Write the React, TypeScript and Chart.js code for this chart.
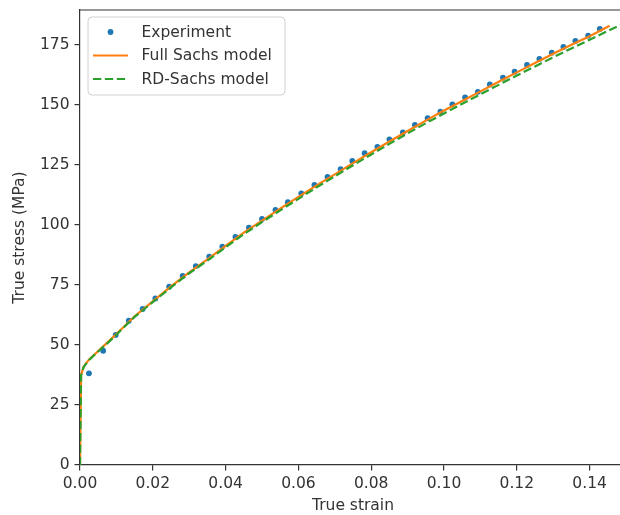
import React, { useEffect, useRef } from 'react';
import { Chart, registerables } from 'chart.js';

Chart.register(...registerables);

// ---- Data ----
const expStrain = [0.00246, 0.00636, 0.0098, 0.0134, 0.0172, 0.0207, 0.0245, 0.0282, 0.0318, 0.0355,
  0.0391, 0.0427, 0.0464, 0.05, 0.0537, 0.0571, 0.0608, 0.0644, 0.068, 0.0716,
  0.0748, 0.0782, 0.0817, 0.085, 0.0887, 0.092, 0.0955, 0.099, 0.1023, 0.1058,
  0.1093, 0.1126, 0.1162, 0.1194, 0.1228, 0.1262, 0.1296, 0.1328, 0.1361, 0.1396,
  0.1428];
const expStress = [38.2, 47.6, 54.2, 60.1, 65.0, 69.4, 74.3, 78.75, 82.9, 86.8,
  91.0, 95.1, 98.9, 102.5, 106.25, 109.5, 113.2, 116.7, 120.1, 123.3,
  126.7, 129.9, 132.6, 135.7, 138.6, 141.7, 144.5, 147.2, 150.3, 153.2,
  155.5, 158.6, 161.4, 163.9, 166.7, 169.2, 171.8, 174.2, 176.7, 178.9,
  181.7];

const fullStrain = [0, 0.0003, 0.001, 0.0025, 0.005, 0.0075, 0.01, 0.015, 0.02, 0.025,
  0.03, 0.035, 0.04, 0.045, 0.05, 0.055, 0.06, 0.065, 0.07, 0.075,
  0.08, 0.085, 0.09, 0.095, 0.1, 0.105, 0.11, 0.115, 0.12, 0.125,
  0.13, 0.135, 0.14, 0.1455];
const fullStress = [0, 37.5, 41.0, 44.0, 47.5, 51.0, 54.6, 62.0, 68.2, 74.4,
  80.3, 85.7, 91.3, 96.8, 101.8, 106.8, 111.7, 116.5, 121.1, 125.8,
  130.3, 134.8, 139.2, 143.5, 147.7, 151.7, 155.7, 159.7, 163.6, 167.5,
  171.4, 175.1, 178.7, 183.0];

const rdStrain = [0, 0.0003, 0.001, 0.0025, 0.005, 0.0075, 0.01, 0.015, 0.02, 0.025,
  0.03, 0.035, 0.04, 0.045, 0.05, 0.055, 0.06, 0.065, 0.07, 0.075,
  0.08, 0.085, 0.09, 0.095, 0.1, 0.105, 0.11, 0.115, 0.12, 0.125,
  0.13, 0.135, 0.14, 0.145, 0.15];
const rdStress = [0, 37.3, 40.8, 43.8, 47.3, 50.7, 54.3, 61.7, 67.9, 74.0,
  79.9, 85.2, 90.7, 96.2, 101.2, 106.1, 110.9, 115.7, 120.3, 124.9,
  129.4, 133.8, 138.2, 142.4, 146.5, 150.5, 154.5, 158.4, 162.3, 166.1,
  169.9, 173.6, 177.2, 180.9, 184.5];

const xTicks = [0, 0.02, 0.04, 0.06, 0.08, 0.1, 0.12, 0.14];
const yTicks = [0, 25, 50, 75, 100, 125, 150, 175];

const seriesLabels = ['Experiment', 'Full Sachs model', 'RD-Sachs model'];
const seriesColors = ['#1f77b4', '#ff7f0e', '#2ca02c'];

const FAMILY = "'DejaVu Sans', sans-serif";
const FSIZE = 15.5;
const TEXT = '#333333';
const AXIS = '#333333';

const frameTop = {
  id: 'frameTop',
  afterDraw(chart: any) {
    const { ctx, chartArea } = chart;
    ctx.save();
    ctx.strokeStyle = AXIS;
    ctx.lineWidth = 1.2;
    ctx.beginPath();
    ctx.moveTo(chartArea.left, chartArea.top);
    ctx.lineTo(chartArea.right, chartArea.top);
    ctx.stroke();
    ctx.restore();
  },
};

const innerLegend = {
  id: 'innerLegend',
  afterDraw(chart: any) {
    const { ctx, chartArea } = chart;
    const ds = chart.data.datasets;
    const x0 = chartArea.left + 8;
    const y0 = chartArea.top + 7;
    const w = 197;
    const h = 78;
    const r = 4;
    ctx.save();
    ctx.beginPath();
    ctx.moveTo(x0 + r, y0);
    ctx.lineTo(x0 + w - r, y0);
    ctx.arcTo(x0 + w, y0, x0 + w, y0 + r, r);
    ctx.lineTo(x0 + w, y0 + h - r);
    ctx.arcTo(x0 + w, y0 + h, x0 + w - r, y0 + h, r);
    ctx.lineTo(x0 + r, y0 + h);
    ctx.arcTo(x0, y0 + h, x0, y0 + h - r, r);
    ctx.lineTo(x0, y0 + r);
    ctx.arcTo(x0, y0, x0 + r, y0, r);
    ctx.closePath();
    ctx.fillStyle = 'rgba(255,255,255,0.8)';
    ctx.fill();
    ctx.strokeStyle = '#d0d0d0';
    ctx.lineWidth = 1;
    ctx.stroke();

    const rowY = [y0 + 15, y0 + 38.5, y0 + 62];
    const hx0 = x0 + 5;
    const hx1 = x0 + 40;
    ds.forEach((d: any, i: number) => {
      const y = rowY[i];
      if (i === 0) {
        ctx.fillStyle = d.backgroundColor;
        ctx.beginPath();
        ctx.arc((hx0 + hx1) / 2, y, d.pointRadius, 0, Math.PI * 2);
        ctx.fill();
      } else {
        ctx.strokeStyle = d.borderColor;
        ctx.lineWidth = d.borderWidth;
        ctx.setLineDash(d.borderDash || []);
        ctx.beginPath();
        ctx.moveTo(hx0, y);
        ctx.lineTo(hx1, y);
        ctx.stroke();
        ctx.setLineDash([]);
      }
      ctx.fillStyle = TEXT;
      ctx.font = `${FSIZE}px ${FAMILY}`;
      ctx.textBaseline = 'middle';
      ctx.textAlign = 'left';
      ctx.fillText(d.label, x0 + 53.5, y + 0.5);
    });
    ctx.restore();
  },
};

export default function App() {
  const ref = useRef<HTMLCanvasElement | null>(null);

  useEffect(() => {
    document.body.style.margin = '0';
    const canvas = ref.current;
    if (!canvas) return;
    const chart = new Chart(canvas, {
      type: 'scatter',
      data: {
        datasets: [
          {
            label: seriesLabels[0],
            data: expStrain.map((x, i) => ({ x, y: expStress[i] })),
            backgroundColor: seriesColors[0],
            borderColor: seriesColors[0],
            pointRadius: 2.9,
            pointBorderWidth: 0,
            showLine: false,
            order: 2,
          },
          {
            label: seriesLabels[1],
            data: fullStrain.map((x, i) => ({ x, y: fullStress[i] })),
            borderColor: seriesColors[1],
            backgroundColor: seriesColors[1],
            borderWidth: 2.2,
            pointRadius: 0,
            showLine: true,
            tension: 0,
            order: 1,
          },
          {
            label: seriesLabels[2],
            data: rdStrain.map((x, i) => ({ x, y: rdStress[i] })),
            borderColor: seriesColors[2],
            backgroundColor: seriesColors[2],
            borderWidth: 2.2,
            borderDash: [8.3, 3.6],
            pointRadius: 0,
            showLine: true,
            tension: 0,
            order: 0,
          },
        ],
      } as any,
      options: {
        responsive: false,
        animation: false,
        devicePixelRatio: 1,
        layout: { padding: { top: 10, left: 0, right: 0, bottom: 0 } },
        plugins: { legend: { display: false }, tooltip: { enabled: false } },
        scales: {
          x: {
            type: 'linear',
            min: 0,
            max: 0.15,
            afterBuildTicks: (s: any) => {
              s.ticks = xTicks.map((v) => ({ value: v }));
            },
            afterFit: (s: any) => {
              s.height = 50;
              s.paddingLeft = 0;
              s.paddingRight = 0;
            },
            grid: { drawOnChartArea: false, drawTicks: true, tickLength: 5.5, color: AXIS, lineWidth: 1.2 },
            border: { display: true, color: AXIS, width: 1.2 },
            ticks: {
              color: TEXT,
              font: { family: FAMILY, size: FSIZE },
              padding: 4,
              maxRotation: 0,
              autoSkip: false,
              callback: (v: any) => Number(v).toFixed(2),
            },
            title: {
              display: true,
              text: 'True strain',
              color: TEXT,
              font: { family: FAMILY, size: FSIZE },
              padding: { top: 0, bottom: 0 },
            },
          },
          y: {
            type: 'linear',
            min: 0,
            max: 189.6,
            afterBuildTicks: (s: any) => {
              s.ticks = yTicks.map((v) => ({ value: v }));
            },
            afterFit: (s: any) => {
              s.width = 80;
              s.paddingTop = 0;
              s.paddingBottom = 0;
            },
            grid: { drawOnChartArea: false, drawTicks: true, tickLength: 5.5, color: AXIS, lineWidth: 1.2 },
            border: { display: true, color: AXIS, width: 1.2 },
            ticks: {
              color: TEXT,
              font: { family: FAMILY, size: FSIZE },
              padding: 5,
              autoSkip: false,
              callback: (v: any) => String(v),
            },
            title: {
              display: true,
              text: 'True stress (MPa)',
              color: TEXT,
              font: { family: FAMILY, size: FSIZE },
              padding: { top: 10.7, bottom: 0 },
            },
          },
        },
      } as any,
      plugins: [frameTop, innerLegend],
    });
    return () => chart.destroy();
  }, []);

  return (
    <div style={{ width: 620, height: 515, overflow: 'hidden', position: 'relative', background: '#fff' }}>
      <canvas ref={ref} width={630} height={515} style={{ display: 'block' }} />
    </div>
  );
}
